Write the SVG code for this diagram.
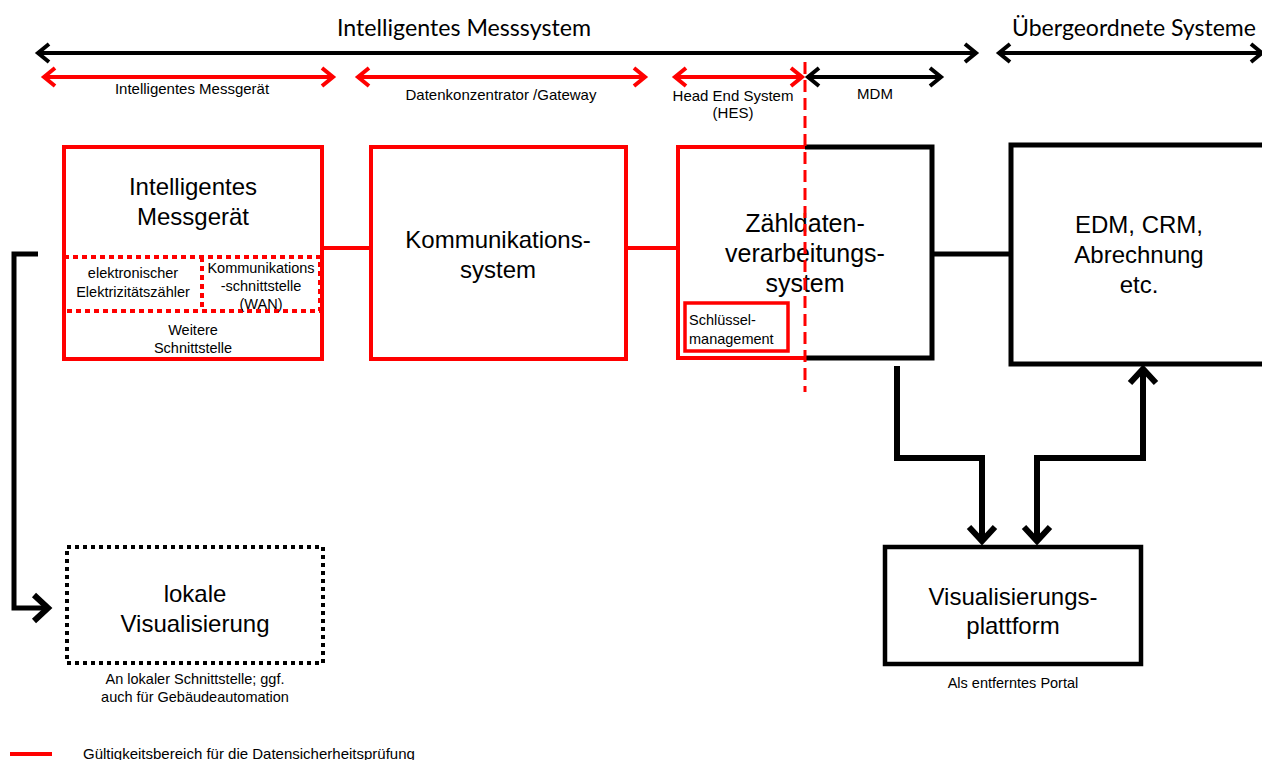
<svg xmlns="http://www.w3.org/2000/svg" width="1262" height="760" viewBox="0 0 1262 760">
<style>
.t{font-family:"Liberation Sans",Arial,sans-serif;fill:#000;text-anchor:middle}
.big{font-size:24px}
.sm{font-size:14.5px}
.lb{font-size:15px}
.hd{font-family:Lato,"Liberation Sans",sans-serif;font-size:24px;fill:#000;text-anchor:middle}
.red{fill:none;stroke:#ff0000;stroke-width:4}
.blk{fill:none;stroke:#000;stroke-width:5}
.dim{fill:none;stroke-width:4}
.con{fill:none;stroke:#000;stroke-width:6}
</style>
<defs>
<marker id="hb" markerUnits="userSpaceOnUse" viewBox="-14 -12 18 24" markerWidth="18" markerHeight="24" refX="0" refY="0" orient="auto-start-reverse">
<path d="M-11,-9 L0,0 L-11,9" fill="none" stroke="#000" stroke-width="4"/>
</marker>
<marker id="hr" markerUnits="userSpaceOnUse" viewBox="-14 -12 18 24" markerWidth="18" markerHeight="24" refX="0" refY="0" orient="auto-start-reverse">
<path d="M-11,-9 L0,0 L-11,9" fill="none" stroke="#ff0000" stroke-width="4"/>
</marker>
<marker id="hg" markerUnits="userSpaceOnUse" viewBox="-20 -18 26 36" markerWidth="26" markerHeight="36" refX="0" refY="0" orient="auto-start-reverse">
<path d="M-14,-13 L0,0 L-14,13" fill="none" stroke="#000" stroke-width="6"/>
</marker>
</defs>
<rect width="1262" height="760" fill="#fff"/>

<g id="scale-bars">
<text class="hd" x="464" y="36" textLength="254" lengthAdjust="spacingAndGlyphs">Intelligentes Messsystem</text>
<text class="hd" style="font-size:23px" x="1134" y="36" textLength="244" lengthAdjust="spacingAndGlyphs">Übergeordnete Systeme</text>
<line class="dim" stroke="#000" x1="38" y1="53" x2="976" y2="53" marker-start="url(#hb)" marker-end="url(#hb)"/>
<line class="dim" stroke="#000" x1="999" y1="53" x2="1262" y2="53" marker-start="url(#hb)" marker-end="url(#hb)"/>
<line class="dim" stroke="#ff0000" x1="44" y1="77" x2="333" y2="77" marker-start="url(#hr)" marker-end="url(#hr)"/>
<line class="dim" stroke="#ff0000" x1="358" y1="77" x2="645" y2="77" marker-start="url(#hr)" marker-end="url(#hr)"/>
<line class="dim" stroke="#ff0000" x1="675" y1="77" x2="802" y2="77" marker-start="url(#hr)" marker-end="url(#hr)"/>
<line class="dim" stroke="#000" x1="808" y1="77" x2="941" y2="77" marker-start="url(#hb)" marker-end="url(#hb)"/>
<text class="t lb" x="192" y="94">Intelligentes  Messgerät</text>
<text class="t lb" x="501" y="100">Datenkonzentrator  /Gateway</text>
<text class="t lb" x="733" y="101">Head End System</text>
<text class="t lb" x="733" y="118">(HES)</text>
<text class="t lb" x="875" y="99">MDM</text>
</g>

<g id="connectors">
<line x1="322" y1="248" x2="370" y2="248" class="red"/>
<line x1="626" y1="248" x2="678" y2="248" class="red"/>
<line x1="933" y1="254" x2="1011" y2="254" class="con" style="stroke-width:5"/>
<path class="con" d="M897,366 V458 H982 V541" marker-end="url(#hg)"/>
<path class="con" d="M1037,541 V458 H1143 V369" marker-start="url(#hg)" marker-end="url(#hg)"/>
<path class="con" style="stroke-width:5" d="M38,254 H14 V608 H48" marker-end="url(#hg)"/>
</g>

<g id="node-messgeraet">
<rect x="64" y="147" width="258" height="212" class="red"/>
<rect x="64" y="257" width="256" height="54" class="red" stroke-dasharray="5 4"/>
<line x1="202" y1="257" x2="202" y2="311" class="red" stroke-dasharray="5 4"/>
<text class="t big" x="193" y="195">Intelligentes</text>
<text class="t big" x="193" y="225">Messgerät</text>
<text class="t sm" x="133" y="278">elektronischer</text>
<text class="t sm" x="133" y="297">Elektrizitätszähler</text>
<text class="t sm" x="261" y="273">Kommunikations</text>
<text class="t sm" x="261" y="291">-schnittstelle</text>
<text class="t sm" x="261" y="309">(WAN)</text>
<text class="t sm" x="193" y="335">Weitere</text>
<text class="t sm" x="193" y="353">Schnittstelle</text>
</g>

<g id="node-kommunikation">
<rect x="371" y="147" width="255" height="212" class="red"/>
<text class="t big" x="498" y="248">Kommunikations-</text>
<text class="t big" x="498" y="278">system</text>
</g>

<g id="node-zaehldaten">
<path class="red" d="M805,147 H678 V358 H805"/>
<path class="blk" d="M805,147 H932 V358 H805"/>
<rect x="685" y="303" width="103" height="48" class="red" style="stroke-width:3.5"/>
<text class="t" style="font-size:25px" x="805" y="232">Zähldaten-</text>
<text class="t" style="font-size:25px" x="805" y="262">verarbeitungs-</text>
<text class="t" style="font-size:25px" x="805" y="292">system</text>
<text class="t sm" style="text-anchor:start" x="689" y="325">Schlüssel-</text>
<text class="t sm" style="text-anchor:start" x="689" y="344">management</text>
</g>

<line id="hes-boundary" x1="805" y1="62" x2="805" y2="392" stroke="#ff0000" stroke-width="3" stroke-dasharray="12 6"/>

<g id="node-edm">
<rect x="1011" y="145" width="256" height="219" class="blk"/>
<text class="t big" x="1139" y="233">EDM, CRM,</text>
<text class="t big" x="1139" y="263">Abrechnung</text>
<text class="t big" x="1139" y="293">etc.</text>
</g>

<g id="node-visualisierungsplattform">
<rect x="885" y="547" width="256" height="117" class="blk" style="stroke-width:4.5"/>
<text class="t big" x="1013" y="605">Visualisierungs-</text>
<text class="t big" x="1013" y="634">plattform</text>
<text class="t sm" x="1013" y="688">Als entferntes Portal</text>
</g>

<g id="node-lokale-visualisierung">
<rect x="67" y="547" width="256" height="116" fill="none" stroke="#000" stroke-width="4" stroke-dasharray="4 4"/>
<text class="t big" x="195" y="602">lokale</text>
<text class="t big" x="195" y="632">Visualisierung</text>
<text class="t sm" x="195" y="684">An lokaler Schnittstelle; ggf.</text>
<text class="t sm" x="195" y="702">auch für Gebäudeautomation</text>
</g>

<g id="legend">
<line x1="10" y1="754" x2="52" y2="754" stroke="#ff0000" stroke-width="4"/>
<text class="t lb" style="text-anchor:start" x="83" y="759">Gültigkeitsbereich  für die Datensicherheitsprüfung</text>
</g>
</svg>
